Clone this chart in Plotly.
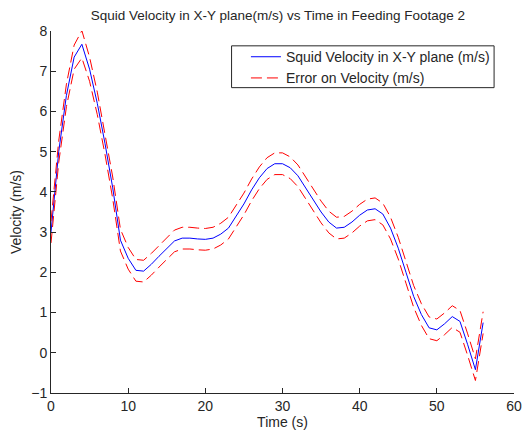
import plotly.graph_objects as go

time_s = list(range(0, 57))
velocity = [3.0, 5.0, 6.4, 7.35, 7.67, 7.05, 6.2, 5.2, 4.1, 2.8,
            2.35, 2.05, 2.03, 2.2, 2.4, 2.6, 2.78, 2.85, 2.85, 2.83,
            2.82, 2.85, 2.95, 3.1, 3.4, 3.7, 4.05, 4.35, 4.58, 4.7,
            4.7, 4.6, 4.4, 4.1, 3.8, 3.5, 3.25, 3.1, 3.12, 3.25,
            3.42, 3.55, 3.58, 3.45, 3.1, 2.6, 2.0, 1.4, 0.95, 0.62,
            0.57, 0.72, 0.9, 0.78, 0.2, -0.42, 0.75]
error = [0.27, 0.27, 0.28, 0.3, 0.34, 0.3, 0.28] + [0.27] * 50

upper = [v + e for v, e in zip(velocity, error)]
lower = [v - e for v, e in zip(velocity, error)]

txt = "#262626"
font = dict(family="Liberation Sans, Arial, sans-serif", size=14, color=txt)

fig = go.Figure()
fig.add_trace(go.Scatter(x=time_s, y=velocity, mode="lines",
                         line=dict(color="#0000ff", width=1),
                         name="Squid Velocity in X-Y plane (m/s)"))
fig.add_trace(go.Scatter(x=time_s, y=upper, mode="lines",
                         line=dict(color="#ff0000", width=1, dash="11px,5px"),
                         name="Error on Velocity (m/s)"))
fig.add_trace(go.Scatter(x=time_s, y=lower, mode="lines",
                         line=dict(color="#ff0000", width=1, dash="11px,5px"),
                         name="Error on Velocity (m/s)", showlegend=False))

axis_common = dict(showline=True, linecolor="#262626", linewidth=1, mirror=False,
                   ticks="inside", ticklen=5, tickcolor="#262626", showgrid=False,
                   zeroline=False, automargin=False,
                   tickfont=dict(size=14, color=txt), title_font=dict(size=14, color=txt))

# legend frame drawn as a layout rectangle (tighter than plotly's legend padding)
fig.add_shape(type="rect", xref="paper", yref="paper",
              x0=0.390, x1=0.957, y0=0.8435, y1=0.959,
              line=dict(color="#262626", width=1), fillcolor="white", layer="above")

fig.update_layout(
    width=522, height=428,
    margin=dict(l=43, r=16, t=23, b=43),
    paper_bgcolor="white", plot_bgcolor="white",
    font=font,
    title=dict(text="Squid Velocity in X-Y plane(m/s) vs Time in Feeding Footage 2",
               x=0.517, xanchor="center", xref="container",
               y=1 - 7 / 428, yanchor="middle", yref="container",
               font=dict(size=13.5, color=txt)),
    xaxis=dict(range=[0, 60], dtick=10, title=dict(text="Time (s)", standoff=0), **axis_common),
    yaxis=dict(range=[-1, 8], dtick=1, title=dict(text="Velocity (m/s)", standoff=8), **axis_common),
    legend=dict(x=0.421, y=0.972, xanchor="left", yanchor="top",
                borderwidth=0, bgcolor="rgba(0,0,0,0)",
                font=dict(size=14, color=txt), tracegroupgap=0, itemwidth=30),
    showlegend=True,
)

fig.write_html("out.html")
